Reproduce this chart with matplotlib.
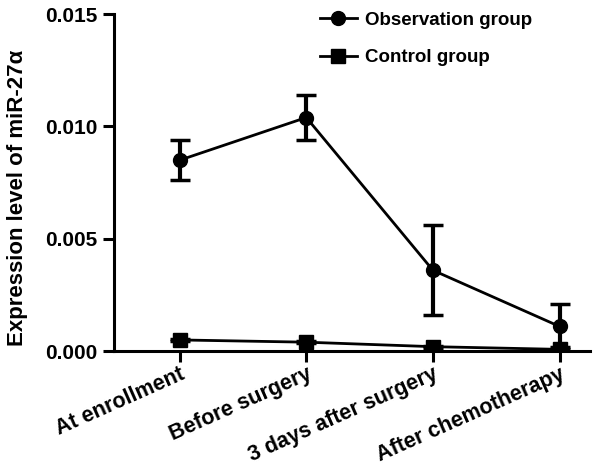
#!/usr/bin/env python3
"""Expression level of miR-27a over treatment stages."""
import matplotlib
matplotlib.use('Agg')
from matplotlib import pyplot as plt

plt.rcParams['font.family'] = ['Liberation Sans', 'DejaVu Sans']
plt.rcParams['font.weight'] = 'bold'

stages = ['At enrollment', 'Before surgery', '3 days after surgery',
          'After chemotherapy']
obs_mean = [0.0085, 0.0104, 0.0036, 0.0011]
obs_err = [0.0009, 0.0010, 0.0020, 0.0010]
ctrl_mean = [0.00050, 0.00040, 0.00020, 0.00008]
ctrl_err = [0.00005, 0.00005, 0.00005, 0.00010]

fig = plt.figure(figsize=(6.02, 4.72), dpi=100)
ax = fig.add_axes([0.189, 0.256, 0.791, 0.714])

x = list(range(len(stages)))
ax.errorbar(x, obs_mean, yerr=obs_err, color='black', lw=2, marker='o',
            ms=10, capsize=7, capthick=2.5, elinewidth=3,
            label='Observation group', zorder=3)
ax.errorbar(x, ctrl_mean, yerr=ctrl_err, color='black', lw=2, marker='s',
            ms=10, capsize=7, capthick=2.5, elinewidth=3,
            label='Control group', zorder=3)

ax.set_xlim(-0.52, 3.24)
ax.set_ylim(0, 0.015)
ax.set_yticks([0.0, 0.005, 0.010, 0.015])
ax.set_yticklabels(['0.000', '0.005', '0.010', '0.015'])
ax.set_xticks(x)
ax.set_xticklabels(stages, rotation=24, ha='right', rotation_mode='anchor',
                   fontsize=15.5)

for side in ['top', 'right']:
    ax.spines[side].set_visible(False)
for side in ['left', 'bottom']:
    ax.spines[side].set_linewidth(2.2)
ax.tick_params(axis='both', width=2.2, length=8)
ax.tick_params(axis='y', labelsize=15)
ax.tick_params(axis='x', pad=1)
ax.set_ylabel('Expression level of miR-27α', fontsize=16, fontweight='bold')
ax.yaxis.set_label_coords(-0.18, 0.455)

# legend shows line + marker only, no error bar glyph
h_obs, = ax.plot([], [], color='black', lw=2, marker='o', ms=10)
h_ctrl, = ax.plot([], [], color='black', lw=2, marker='s', ms=10)
ax.legend([h_obs, h_ctrl], ['Observation group', 'Control group'],
          loc='upper left', bbox_to_anchor=(0.397, 1.058), frameon=False,
          fontsize=13.5, labelspacing=1.1, handlelength=2.0,
          handletextpad=0.4)

fig.savefig('out.png', dpi=100)
